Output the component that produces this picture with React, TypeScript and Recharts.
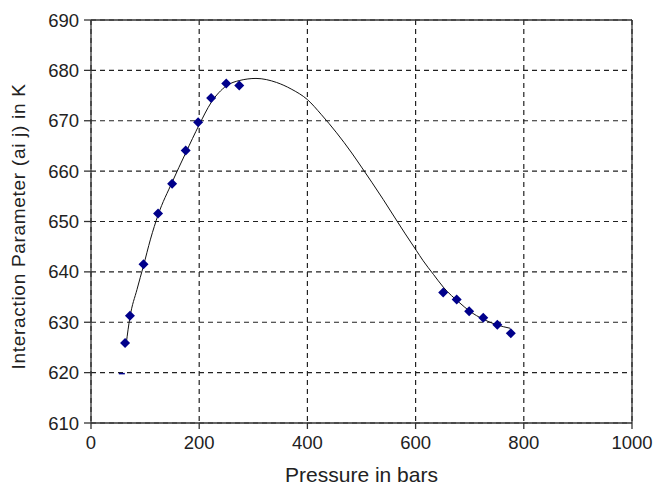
import {
  ComposedChart,
  Line,
  Scatter,
  XAxis,
  YAxis,
  CartesianGrid,
  ReferenceLine,
} from "recharts";

// measured points (pressure in bars, aij in K)
const pressure = [63, 72, 97, 124, 150, 175, 198, 222, 250, 274, 651, 676, 699, 725, 751, 776];
const aij = [625.9, 631.3, 641.5, 651.6, 657.5, 664.1, 669.7, 674.5, 677.4, 677.0, 635.9, 634.5, 632.2, 630.9, 629.5, 627.8];

// the clipped point near 620
const stubX = [57];
const stubY = [619.8];

// fitted curve
const fitX = [65, 72, 85, 97, 110, 124, 150, 175, 200, 222, 250, 275, 305, 343, 370, 400, 426, 454, 482, 500, 519, 540, 562, 580, 601, 614, 633, 651, 682, 700, 725, 750, 775];
const fitY = [625.7, 631, 636.5, 641.2, 646.5, 651.3, 657.8, 663.6, 669.2, 673.6, 676.9, 678.0, 678.4, 677.6, 676.3, 674.2, 671.2, 667.6, 663.6, 660.8, 657.8, 654.4, 650.7, 647.7, 644.3, 642.2, 639.5, 637.0, 633.8, 632.2, 630.6, 629.5, 628.8];

const xTicks = [0, 200, 400, 600, 800, 1000];
const yTicks = [610, 620, 630, 640, 650, 660, 670, 680, 690];

const points = pressure.map((x, i) => ({ x, y: aij[i] }));
const stub = stubX.map((x, i) => ({ x, y: stubY[i] }));
const fit = fitX.map((x, i) => ({ x, y: fitY[i] }));

const font = "'Liberation Sans', Arial, sans-serif";
const axisColor = "#333";

const Diamond = (props: any) => {
  const { cx, cy } = props;
  const r = 5;
  return (
    <polygon
      points={`${cx},${cy - r} ${cx + r},${cy} ${cx},${cy + r} ${cx - r},${cy}`}
      fill="#00008b"
    />
  );
};

const Dash = (props: any) => {
  const { cx, cy } = props;
  return <line x1={cx - 3} y1={cy} x2={cx + 3} y2={cy} stroke="#00008b" strokeWidth={1.5} />;
};

export default function App() {
  return (
    <div style={{ position: "absolute", left: 0, top: 0 }}>
      <ComposedChart
        width={658}
        height={485}
        margin={{ top: 20, right: 26, bottom: 0, left: 8 }}
        style={{ fontFamily: font }}
      >
        <CartesianGrid stroke="#222" strokeDasharray="5 4" strokeWidth={1.2} />
        <XAxis
          type="number"
          dataKey="x"
          domain={[0, 1000]}
          ticks={xTicks}
          height={62}
          stroke={axisColor}
          strokeWidth={1.3}
          tickSize={6}
          tickMargin={7}
          tick={{ fill: "#222", fontSize: 18.5 }}
          allowDataOverflow
          label={{
            value: "Pressure in bars",
            position: "insideBottom",
            offset: 3,
            style: { fill: "#222", fontSize: 21 },
          }}
        />
        <YAxis
          type="number"
          dataKey="y"
          domain={[610, 690]}
          ticks={yTicks}
          width={83}
          stroke={axisColor}
          strokeWidth={1.3}
          tickSize={7}
          tickMargin={5}
          tick={{ fill: "#222", fontSize: 18.5 }}
          allowDataOverflow
          label={{
            value: "Interaction Parameter (ai j) in K",
            angle: -90,
            position: "insideLeft",
            dx: 5,
            dy: 5,
            style: { fill: "#222", fontSize: 19, letterSpacing: 0.7, textAnchor: "middle" },
          }}
        />
        <ReferenceLine y={690} stroke={axisColor} strokeWidth={1.3} />
        <ReferenceLine x={1000} stroke={axisColor} strokeWidth={1.3} />
        <Line
          data={fit}
          dataKey="y"
          type="monotone"
          stroke="#111"
          strokeWidth={1}
          dot={false}
          isAnimationActive={false}
        />
        <Scatter data={points} dataKey="y" shape={<Diamond />} isAnimationActive={false} />
        <Scatter data={stub} dataKey="y" shape={<Dash />} isAnimationActive={false} />
      </ComposedChart>
    </div>
  );
}
